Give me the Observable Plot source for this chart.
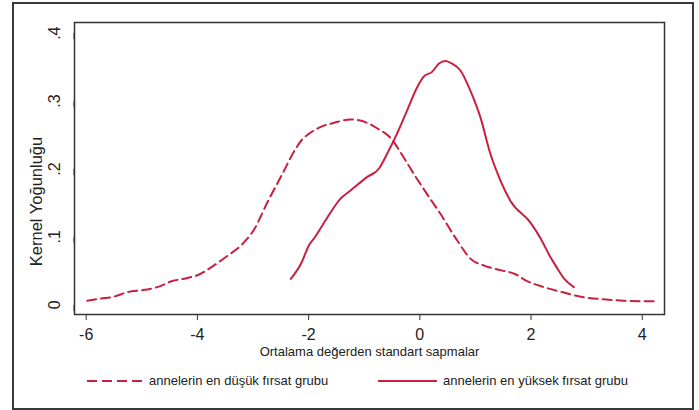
<!DOCTYPE html>
<html>
<head>
<meta charset="utf-8">
<script src="https://cdn.jsdelivr.net/npm/d3@7"></script>
<script src="https://cdn.jsdelivr.net/npm/@observablehq/plot@0.6"></script>
<style>
  body { margin: 0; background: #fff; font-family: "Liberation Sans", Arial, sans-serif; }
  #wrap { position: relative; width: 699px; height: 410px; overflow: hidden; }
  #outer { position: absolute; left: 12px; top: 2px; width: 678px; height: 404px; border: 2px solid #3a3a3a; }
  #chart { position: absolute; left: 0; top: 0; }
  .leg { position: absolute; top: 373px; font-size: 13px; color: #222; display: flex; align-items: center; }
  .leg svg { margin-right: 6px; }
</style>
</head>
<body>
<div id="wrap">
  <div id="outer"></div>
  <div id="chart"></div>
  <div class="leg" style="left:87px"><svg width="56" height="6"><line x1="0" y1="3" x2="56" y2="3" stroke="#c8203f" stroke-width="2" stroke-dasharray="10,5"/></svg><span>annelerin en düşük fırsat grubu</span></div>
  <div class="leg" style="left:378px"><svg width="59" height="6"><line x1="0" y1="3" x2="59" y2="3" stroke="#c8203f" stroke-width="2"/></svg><span>annelerin en yüksek fırsat grubu</span></div>
</div>
<script>
const lowX = [-5.98,-5.74,-5.5,-5.24,-4.95,-4.72,-4.45,-4.2,-3.96,-3.72,-3.46,-3.22,-2.98,-2.74,-2.47,-2.24,-2.12,-1.99,-1.78,-1.54,-1.25,-0.95,-0.77,-0.53,-0.29,-0.11,0.13,0.37,0.67,0.91,1.18,1.45,1.72,1.9,2.23,2.59,2.95,3.31,3.67,4.24];
const lowY = [0.006,0.009,0.012,0.019,0.022,0.026,0.035,0.039,0.045,0.057,0.072,0.087,0.111,0.151,0.193,0.229,0.243,0.252,0.262,0.268,0.273,0.268,0.260,0.246,0.217,0.193,0.163,0.134,0.095,0.068,0.057,0.051,0.045,0.036,0.026,0.018,0.011,0.008,0.006,0.005];
const highX = [-2.32,-2.14,-1.99,-1.90,-1.66,-1.43,-1.25,-0.95,-0.74,-0.59,-0.41,-0.23,-0.05,0.07,0.22,0.34,0.46,0.58,0.73,0.91,1.09,1.27,1.45,1.63,1.99,2.17,2.35,2.44,2.59,2.77];
const highY = [0.038,0.060,0.088,0.098,0.129,0.156,0.168,0.188,0.200,0.222,0.252,0.286,0.320,0.336,0.343,0.355,0.359,0.355,0.345,0.315,0.276,0.222,0.183,0.153,0.121,0.098,0.070,0.058,0.039,0.026];
const xTicks = [-6,-4,-2,0,2,4];
const yTicks = [0,0.1,0.2,0.3,0.4];
const xTitle = "Ortalama değerden standart sapmalar";
const yTitle = "Kernel Yoğunluğu";
const color = "#c8203f";

const low = lowX.map((x,i)=>({x, y: lowY[i]}));
const high = highX.map((x,i)=>({x, y: highY[i]}));
const yfmt = d => d === 0 ? "0" : d3.format(".1f")(d).replace(/^0/, "");
const xfmt = d => String(d);

const plot = Plot.plot({
  width: 699,
  height: 370,
  marginLeft: 74,
  marginRight: 35,
  marginTop: 22,
  marginBottom: 56,
  style: {fontFamily: "Liberation Sans, Arial, sans-serif", fontSize: "15px", color: "#222", background: "transparent"},
  x: {domain: [-6.21, 4.40]},
  y: {domain: [-0.0143, 0.4157]},
  marks: [
    Plot.frame({stroke: "#333", strokeWidth: 1.5}),
    Plot.axisX({ticks: xTicks, tickSize: 6, tickPadding: 8, tickFormat: xfmt, fontSize: 16, stroke: "#333",
      label: null}),
    Plot.text([xTitle], {frameAnchor: "bottom", dy: 41, fontSize: 13, fill: "#222"}),
    Plot.axisY({ticks: yTicks, tickSize: 6, tickPadding: 14, tickFormat: yfmt, fontSize: 16, stroke: "#333",
      rotate: -90, textAnchor: "middle", label: null}),
    Plot.text([yTitle], {frameAnchor: "left", dx: -38, dy: 33, rotate: -90, textAnchor: "middle", fontSize: 16.5, fill: "#222", lineAnchor: "middle"}),
    Plot.line(low, {x: "x", y: "y", stroke: color, strokeWidth: 2, strokeDasharray: "9,5", curve: "monotone-x"}),
    Plot.line(high, {x: "x", y: "y", stroke: color, strokeWidth: 2, curve: "monotone-x"})
  ]
});
document.getElementById("chart").appendChild(plot);
</script>
</body>
</html>
